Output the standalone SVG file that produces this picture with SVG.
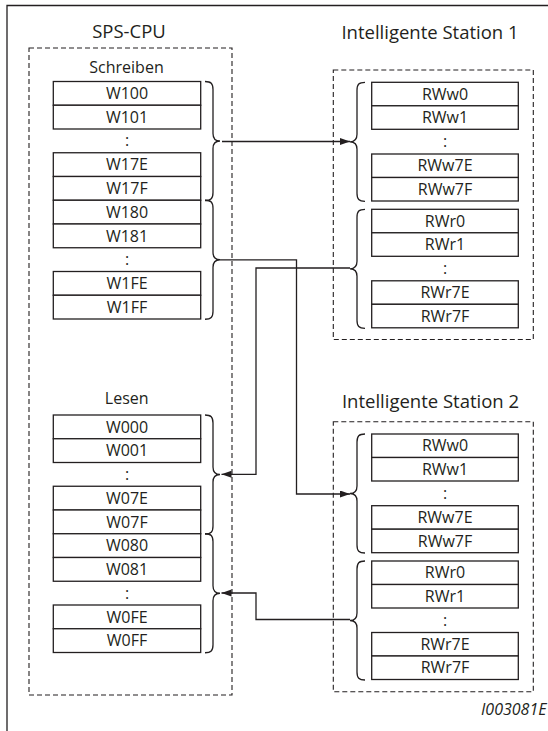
<svg xmlns="http://www.w3.org/2000/svg" width="548" height="731" viewBox="0 0 548 731">
<style>
  .frame{fill:none;stroke:#231f20;stroke-width:1.3}
  .dash{fill:none;stroke:#231f20;stroke-width:1.1;stroke-dasharray:5 3}
  .cell rect{fill:#fff;stroke:#231f20;stroke-width:1.3}
  .cell text,.t{font-family:"Open Sans","Liberation Sans",sans-serif;font-size:16px;fill:#231f20;text-anchor:middle}
  .title{font-family:"Open Sans","Liberation Sans",sans-serif;font-size:18.5px;fill:#231f20;text-anchor:middle}
  .dots{font-family:"Open Sans","Liberation Sans",sans-serif;font-size:16px;fill:#231f20;text-anchor:middle}
  .brace{fill:none;stroke:#231f20;stroke-width:1.3}
  .conn{fill:none;stroke:#231f20;stroke-width:1.3}
  .fig{font-family:"Open Sans","Liberation Sans",sans-serif;font-size:16px;font-style:italic;fill:#231f20;text-anchor:end}
</style>
<defs>
  <path id="brace" class="brace" d="M0,0 C6,0 8,2 8,8 V52 C8,57 10,59.5 15,59.5 C10,59.5 8,62 8,67 V111 C8,117 6,119 0,119"/>
  <marker id="arr" markerUnits="userSpaceOnUse" markerWidth="11" markerHeight="8" refX="10" refY="3.5" orient="auto">
    <path d="M0,0 L10,3.5 L0,7 Z" fill="#231f20"/>
  </marker>
</defs>
<rect width="548" height="731" fill="#fff"/>
<path class="frame" d="M7,731 V5.5 H548"/>

<g id="sps-cpu">
  <text class="title" x="129" y="37.5">SPS-CPU</text>
  <rect class="dash" x="29" y="48" width="203" height="647"/>
  <g id="schreiben">
    <text class="t" x="126.5" y="72.7">Schreiben</text>
    <g id="W100" class="cell"><rect x="53.3" y="81.5" width="147.4" height="23.75"/><text x="127" y="99">W100</text></g>
    <g id="W101" class="cell"><rect x="53.3" y="105.25" width="147.4" height="23.75"/><text x="127" y="122.8">W101</text></g>
    <text class="dots" x="127" y="146.3">:</text>
    <g id="W17E" class="cell"><rect x="53.3" y="152.75" width="147.4" height="23.75"/><text x="127" y="170.3">W17E</text></g>
    <g id="W17F" class="cell"><rect x="53.3" y="176.5" width="147.4" height="23.75"/><text x="127" y="194">W17F</text></g>
    <g id="W180" class="cell"><rect x="53.3" y="200.25" width="147.4" height="23.75"/><text x="127" y="217.8">W180</text></g>
    <g id="W181" class="cell"><rect x="53.3" y="224" width="147.4" height="23.75"/><text x="127" y="241.5">W181</text></g>
    <text class="dots" x="127" y="265">:</text>
    <g id="W1FE" class="cell"><rect x="53.3" y="271.5" width="147.4" height="23.75"/><text x="127" y="289">W1FE</text></g>
    <g id="W1FF" class="cell"><rect x="53.3" y="295.25" width="147.4" height="23.75"/><text x="127" y="312.8">W1FF</text></g>
    <use href="#brace" transform="translate(205,81.5)"/>
    <use href="#brace" transform="translate(205,200.25)"/>
  </g>
  <g id="lesen">
    <text class="t" x="126.7" y="404">Lesen</text>
    <g id="W000" class="cell"><rect x="53.3" y="415" width="147.4" height="23.75"/><text x="127" y="432.5">W000</text></g>
    <g id="W001" class="cell"><rect x="53.3" y="438.75" width="147.4" height="23.75"/><text x="127" y="456.3">W001</text></g>
    <text class="dots" x="127" y="479.8">:</text>
    <g id="W07E" class="cell"><rect x="53.3" y="486.25" width="147.4" height="23.75"/><text x="127" y="503.8">W07E</text></g>
    <g id="W07F" class="cell"><rect x="53.3" y="510" width="147.4" height="23.75"/><text x="127" y="527.5">W07F</text></g>
    <g id="W080" class="cell"><rect x="53.3" y="533.75" width="147.4" height="23.75"/><text x="127" y="551.3">W080</text></g>
    <g id="W081" class="cell"><rect x="53.3" y="557.5" width="147.4" height="23.75"/><text x="127" y="575">W081</text></g>
    <text class="dots" x="127" y="598.5">:</text>
    <g id="W0FE" class="cell"><rect x="53.3" y="605" width="147.4" height="23.75"/><text x="127" y="622.5">W0FE</text></g>
    <g id="W0FF" class="cell"><rect x="53.3" y="628.75" width="147.4" height="23.75"/><text x="127" y="646.3">W0FF</text></g>
    <use href="#brace" transform="translate(205,415)"/>
    <use href="#brace" transform="translate(205,533.75)"/>
  </g>
</g>

<g id="station1">
  <text class="title" x="430" y="39">Intelligente Station 1</text>
  <rect class="dash" x="333.3" y="70" width="200" height="269.5"/>
  <g id="s1-RWw0" class="cell"><rect x="371.7" y="82.3" width="146.6" height="23.5"/><text x="445" y="99.7">RWw0</text></g>
  <g id="s1-RWw1" class="cell"><rect x="371.7" y="105.8" width="146.6" height="23.5"/><text x="445" y="123.2">RWw1</text></g>
  <text class="dots" x="445" y="147">:</text>
  <g id="s1-RWw7E" class="cell"><rect x="371.7" y="154" width="146.6" height="23.5"/><text x="445" y="171.4">RWw7E</text></g>
  <g id="s1-RWw7F" class="cell"><rect x="371.7" y="177.5" width="146.6" height="23.5"/><text x="445" y="194.9">RWw7F</text></g>
  <g id="s1-RWr0" class="cell"><rect x="371.7" y="209.3" width="146.6" height="23.5"/><text x="445" y="226.7">RWr0</text></g>
  <g id="s1-RWr1" class="cell"><rect x="371.7" y="232.8" width="146.6" height="23.5"/><text x="445" y="250.2">RWr1</text></g>
  <text class="dots" x="445" y="274">:</text>
  <g id="s1-RWr7E" class="cell"><rect x="371.7" y="280.8" width="146.6" height="23.5"/><text x="445" y="298.2">RWr7E</text></g>
  <g id="s1-RWr7F" class="cell"><rect x="371.7" y="304.3" width="146.6" height="23.5"/><text x="445" y="321.7">RWr7F</text></g>
  <use href="#brace" transform="translate(365,82.3) scale(-1,1)"/>
  <use href="#brace" transform="translate(365,209.3) scale(-1,1)"/>
</g>

<g id="station2">
  <text class="title" x="430.5" y="408.3">Intelligente Station 2</text>
  <rect class="dash" x="333.3" y="421.7" width="200" height="270"/>
  <g id="s2-RWw0" class="cell"><rect x="371.7" y="434" width="146.6" height="23.5"/><text x="445" y="451.4">RWw0</text></g>
  <g id="s2-RWw1" class="cell"><rect x="371.7" y="457.5" width="146.6" height="23.5"/><text x="445" y="474.9">RWw1</text></g>
  <text class="dots" x="445" y="498.7">:</text>
  <g id="s2-RWw7E" class="cell"><rect x="371.7" y="505.7" width="146.6" height="23.5"/><text x="445" y="523.1">RWw7E</text></g>
  <g id="s2-RWw7F" class="cell"><rect x="371.7" y="529.2" width="146.6" height="23.5"/><text x="445" y="546.6">RWw7F</text></g>
  <g id="s2-RWr0" class="cell"><rect x="371.7" y="561" width="146.6" height="23.5"/><text x="445" y="578.4">RWr0</text></g>
  <g id="s2-RWr1" class="cell"><rect x="371.7" y="584.5" width="146.6" height="23.5"/><text x="445" y="601.9">RWr1</text></g>
  <text class="dots" x="445" y="625.7">:</text>
  <g id="s2-RWr7E" class="cell"><rect x="371.7" y="632.5" width="146.6" height="23.5"/><text x="445" y="649.9">RWr7E</text></g>
  <g id="s2-RWr7F" class="cell"><rect x="371.7" y="656" width="146.6" height="23.5"/><text x="445" y="673.4">RWr7F</text></g>
  <use href="#brace" transform="translate(365,434) scale(-1,1)"/>
  <use href="#brace" transform="translate(365,561) scale(-1,1)"/>
</g>

<g id="connectors">
  <path class="conn" d="M222,141.5 H350" marker-end="url(#arr)"/>
  <path class="conn" d="M220,259.8 H296.5 V494 H350" marker-end="url(#arr)"/>
  <path class="conn" d="M350,268 H256 V474.3 H221.5" marker-end="url(#arr)"/>
  <path class="conn" d="M350,619.5 H256 V593 H221.5" marker-end="url(#arr)"/>
</g>

<text class="fig" x="546.5" y="715">I003081E</text>
</svg>
